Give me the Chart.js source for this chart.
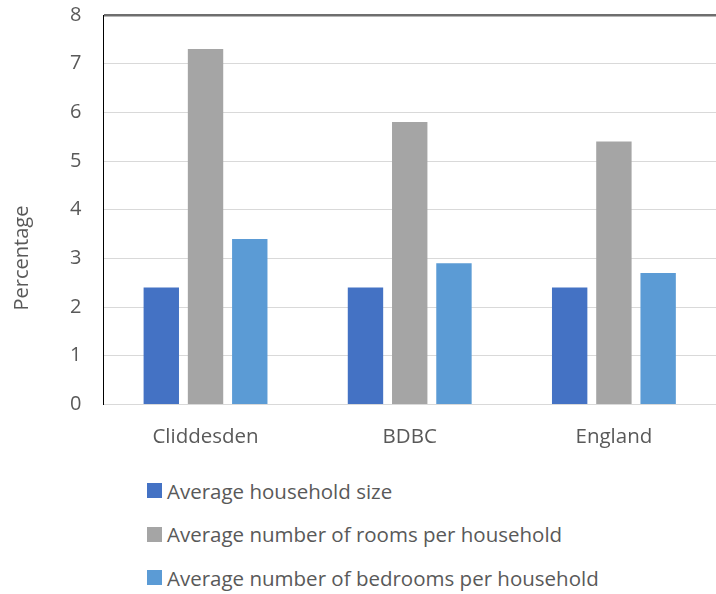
<!DOCTYPE html>
<html>
<head>
<meta charset="utf-8">
<script src="https://cdn.jsdelivr.net/npm/chart.js@4"></script>
<style>
  body { margin: 0; background: #fff; font-family: "Open Sans", sans-serif; }
  #wrap { position: relative; width: 716px; height: 488px; margin-top: -19px; }
  #legend { list-style: none; margin: 0; padding: 0 0 0 147px; }
  #legend li { display: flex; align-items: center; height: 43.5px; font-size: 20.5px; color: #595959; }
  #legend li span { display: inline-block; width: 15px; height: 15px; margin-right: 5px; }
</style>
</head>
<body>
<div id="wrap"><canvas id="chart"></canvas></div>
<ul id="legend"></ul>
<script>
"use strict";

const categories = ["Cliddesden", "BDBC", "England"];
const householdSize = [2.4, 2.4, 2.4];
const roomsPerHousehold = [7.3, 5.8, 5.4];
const bedroomsPerHousehold = [3.4, 2.9, 2.7];
const yTicks = [0, 1, 2, 3, 4, 5, 6, 7, 8];
const yTitle = "Percentage";

const FONT = "'Open Sans', sans-serif";
const TEXT = "#595959";

let makeSet = function(label, data, colour) {
  return {
    label: label,
    data: data,
    backgroundColor: colour,
    borderWidth: 0,
    barPercentage: 0.8,
    categoryPercentage: 0.65
  };
};

// the original centres the axis title on plot + category labels, not just the plot
const yTitlePlugin = {
  id: "yTitle",
  afterDraw(chart) {
    const ctx = chart.ctx;
    const y = chart.scales.y;
    const x = chart.scales.x;
    ctx.save();
    ctx.translate(22, (y.top + x.bottom) / 2 + 16);
    ctx.rotate(-Math.PI / 2);
    ctx.textAlign = "center";
    ctx.textBaseline = "middle";
    ctx.fillStyle = TEXT;
    ctx.font = "20px " + FONT;
    ctx.fillText(yTitle, 0, 0);
    ctx.restore();
  }
};

const chart = new Chart(document.getElementById("chart"), {
  type: "bar",
  data: {
    labels: categories,
    datasets: [
      makeSet("Average household size", householdSize, "#4472c4"),
      makeSet("Average number of rooms per household", roomsPerHousehold, "#a5a5a5"),
      makeSet("Average number of bedrooms per household", bedroomsPerHousehold, "#5b9bd5")
    ]
  },
  plugins: [yTitlePlugin],
  options: {
    responsive: true,
    maintainAspectRatio: false,
    animation: false,
    layout: { padding: { top: 0, right: 0, left: 48, bottom: 0 } },
    plugins: {
      legend: { display: false },
      tooltip: { enabled: false }
    },
    scales: {
      x: {
        grid: { display: false, drawTicks: false },
        border: { color: "#d9d9d9", width: 1 },
        ticks: { color: TEXT, font: { family: FONT, size: 20.5 }, padding: 20 }
      },
      y: {
        min: 0,
        max: 8,
        afterBuildTicks: function(axis) {
          axis.ticks = yTicks.map(v => ({ value: v }));
        },
        grid: {
          drawTicks: false,
          color: ctx => (ctx.tick && ctx.tick.value === 8) ? "#6e6e6e" : "#d9d9d9",
          lineWidth: ctx => (ctx.tick && ctx.tick.value === 8) ? 2.5 : 1
        },
        border: { color: "#000", width: 1 },
        ticks: { color: TEXT, font: { family: FONT, size: 20 }, padding: 22 }
      }
    }
  }
});

// legend stacked one item per line, like the original
let legendList = document.getElementById("legend");
chart.data.datasets.forEach(function(ds) {
  let li = document.createElement("li");
  let box = document.createElement("span");
  box.style.background = ds.backgroundColor;
  li.appendChild(box);
  li.appendChild(document.createTextNode(ds.label));
  legendList.appendChild(li);
});
</script>
</body>
</html>
